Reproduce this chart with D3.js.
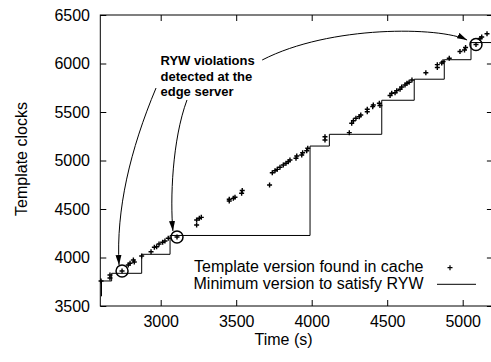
<!DOCTYPE html>
<html>
<head>
<meta charset="utf-8">
<script src="https://cdn.jsdelivr.net/npm/d3@7"></script>
<style>
  html, body { margin: 0; padding: 0; background: #fff; }
  svg { display: block; }
  text { font-family: "Liberation Sans", Arial, Helvetica, sans-serif; fill: #000; }
</style>
</head>
<body>
<svg id="chart" width="491" height="362"></svg>
<script>
// ---- Data ----
const xTicks = [3000, 3500, 4000, 4500, 5000];
const yTicks = [3500, 4000, 4500, 5000, 5500, 6000, 6500];

// Template version found in cache (time, version)
const cacheTimes = [2605, 2664, 2664, 2744, 2785, 2797, 2819, 2825, 2874, 2936, 2958, 2973, 2989, 3013, 3028, 3050, 3108,
  3238, 3238, 3256, 3269, 3454, 3454, 3481, 3492, 3536, 3540, 3721, 3739, 3757, 3772, 3790, 3812, 3830, 3845, 3856,
  3896, 3901, 3934, 3940, 3967, 3974, 4088, 4088, 4249, 4265, 4276, 4293, 4315, 4325, 4368, 4368, 4404, 4408, 4448, 4452,
  4519, 4530, 4552, 4563, 4585, 4596, 4618, 4631, 4645, 4664, 4756, 4832, 4832, 4861, 4870, 4911, 4982, 5012, 5019,
  5088, 5115, 5126, 5161];
const cacheVersions = [3758, 3820, 3789, 3861, 3923, 3940, 3974, 3954, 4015, 4060, 4105, 4111, 4139, 4157, 4170, 4198, 4211,
  4335, 4387, 4404, 4414, 4582, 4600, 4610, 4621, 4662, 4691, 4747, 4874, 4895, 4909, 4930, 4954, 4971, 4988, 5005,
  5023, 5046, 5057, 5080, 5101, 5126, 5245, 5211, 5287, 5384, 5410, 5435, 5452, 5469, 5503, 5528, 5555, 5572, 5590, 5567,
  5670, 5693, 5699, 5720, 5734, 5758, 5778, 5796, 5806, 5830, 5905, 5959, 5988, 6005, 6019, 6054, 6124, 6139, 6165,
  6196, 6258, 6273, 6307];

// Minimum version to satisfy RYW (step function)
const minTimes = [2608, 2608, 2675, 2874, 3062, 3989, 4117, 4464, 4679, 4878, 5055, 5200];
const minVersions = [3600, 3758, 3837, 4033, 4227, 5149, 5270, 5621, 5838, 6039, 6216, 6216];

// RYW violations detected (circled)
const violationTimes = [2744, 3108, 5088];
const violationVersions = [3861, 4211, 6196];

// Annotation arrows (cubic bezier control points, in data space)
const arrows = [
  [[2969, 5747], [2797, 5108], [2704, 4490], [2724, 3923]],
  [[3174, 5624], [3076, 5211], [3062, 4593], [3081, 4273]],
  [[3672, 6036], [4121, 6397], [4850, 6380], [5029, 6242]]
];
const annotationLines = ["RYW violations", "detected at the", "edge server"];
const legendLabels = ["Template version found in cache", "Minimum version to satisfy RYW"];

// ---- Layout ----
const svg = d3.select("#chart");
const x = d3.scaleLinear().domain([2600, 5200]).range([100.3, 492.9]);
const y = d3.scaleLinear().domain([3500, 6500]).range([306, 15]);

svg.append("defs").append("marker")
  .attr("id", "arrow")
  .attr("viewBox", "0 0 10 6")
  .attr("refX", 10).attr("refY", 3)
  .attr("markerWidth", 10).attr("markerHeight", 6)
  .attr("markerUnits", "userSpaceOnUse")
  .attr("orient", "auto")
  .append("path").attr("d", "M0,0L10,3L0,6Z").attr("fill", "#000");

// Frame
const [x0, x1] = x.range();
const [yb, yt] = y.range();
svg.append("rect")
  .attr("x", x0).attr("y", yt).attr("width", x1 - x0).attr("height", yb - yt)
  .attr("fill", "none").attr("stroke", "#000").attr("stroke-width", 1);

// Axes (inward ticks, mirrored)
const tickLen = 6;
const axB = svg.append("g").attr("transform", `translate(0,${yb})`)
  .call(d3.axisBottom(x).tickValues(xTicks).tickSize(-tickLen).tickPadding(11).tickFormat(d3.format("d")));
const axT = svg.append("g").attr("transform", `translate(0,${yt})`)
  .call(d3.axisTop(x).tickValues(xTicks).tickSize(-tickLen).tickFormat(""));
const axL = svg.append("g").attr("transform", `translate(${x0},0)`)
  .call(d3.axisLeft(y).tickValues(yTicks).tickSize(-tickLen).tickPadding(11).tickFormat(d3.format("d")));
const axR = svg.append("g").attr("transform", `translate(${x1},0)`)
  .call(d3.axisRight(y).tickValues(yTicks).tickSize(-tickLen).tickFormat(""));
[axB, axT, axL, axR].forEach(a => {
  a.select(".domain").remove();
  a.selectAll("line").attr("stroke", "#000");
  a.selectAll("text").style("font-size", "16px").style("font-family", "Liberation Sans, Arial, sans-serif").attr("fill", "#000");
});
axB.selectAll("text").attr("dy", "0.71em").attr("y", 10);
axL.selectAll("text").attr("x", -10.3);

// Axis titles
svg.append("text").attr("x", 283.5).attr("y", 345).attr("text-anchor", "middle")
  .style("font-size", "16px").text("Time (s)");
svg.append("text").attr("transform", "translate(27,159) rotate(-90)").attr("text-anchor", "middle")
  .style("font-size", "16px").text("Template clocks");

// Step line
const lineData = minTimes.map((t, i) => [t, minVersions[i]]);
svg.append("path")
  .datum(lineData)
  .attr("d", d3.line().x(d => x(d[0])).y(d => y(d[1])).curve(d3.curveStepAfter))
  .attr("fill", "none").attr("stroke", "#000").attr("stroke-width", 1);

// Points
const plus = "M-2.5,0H2.5M0,-2.5V2.5";
svg.append("g").selectAll("path")
  .data(cacheTimes.map((t, i) => [t, cacheVersions[i]]))
  .join("path")
  .attr("transform", d => `translate(${x(d[0])},${y(d[1])})`)
  .attr("d", plus)
  .attr("stroke", "#000").attr("stroke-width", 1.4).attr("fill", "none");

// Violation circles
svg.append("g").selectAll("circle")
  .data(violationTimes.map((t, i) => [t, violationVersions[i]]))
  .join("circle")
  .attr("cx", d => x(d[0])).attr("cy", d => y(d[1])).attr("r", 6)
  .attr("fill", "none").attr("stroke", "#000").attr("stroke-width", 1.5);

// Arrows
svg.append("g").selectAll("path")
  .data(arrows)
  .join("path")
  .attr("d", d => {
    const p = d.map(q => [x(q[0]), y(q[1])]);
    return `M${p[0][0]},${p[0][1]}C${p[1][0]},${p[1][1]} ${p[2][0]},${p[2][1]} ${p[3][0]},${p[3][1]}`;
  })
  .attr("fill", "none").attr("stroke", "#000").attr("stroke-width", 1)
  .attr("marker-end", "url(#arrow)");

// Annotation text
const ann = svg.append("text").attr("x", 160.5).attr("y", 65)
  .style("font-size", "13px").style("font-weight", "bold");
annotationLines.forEach((l, i) => {
  ann.append("tspan").attr("x", 160.5).attr("y", 65 + i * 15.5).text(l);
});

// Legend
const legY = [272, 289];
legendLabels.forEach((l, i) => {
  svg.append("text").attr("x", 423.5).attr("y", legY[i]).attr("text-anchor", "end")
    .style("font-size", "16px").text(l);
});
svg.append("path").attr("transform", "translate(450,267.7)").attr("d", plus)
  .attr("stroke", "#000").attr("stroke-width", 1.2).attr("fill", "none");
svg.append("line").attr("x1", 437).attr("x2", 476).attr("y1", 284.3).attr("y2", 284.3)
  .attr("stroke", "#000").attr("stroke-width", 1);
</script>
</body>
</html>
